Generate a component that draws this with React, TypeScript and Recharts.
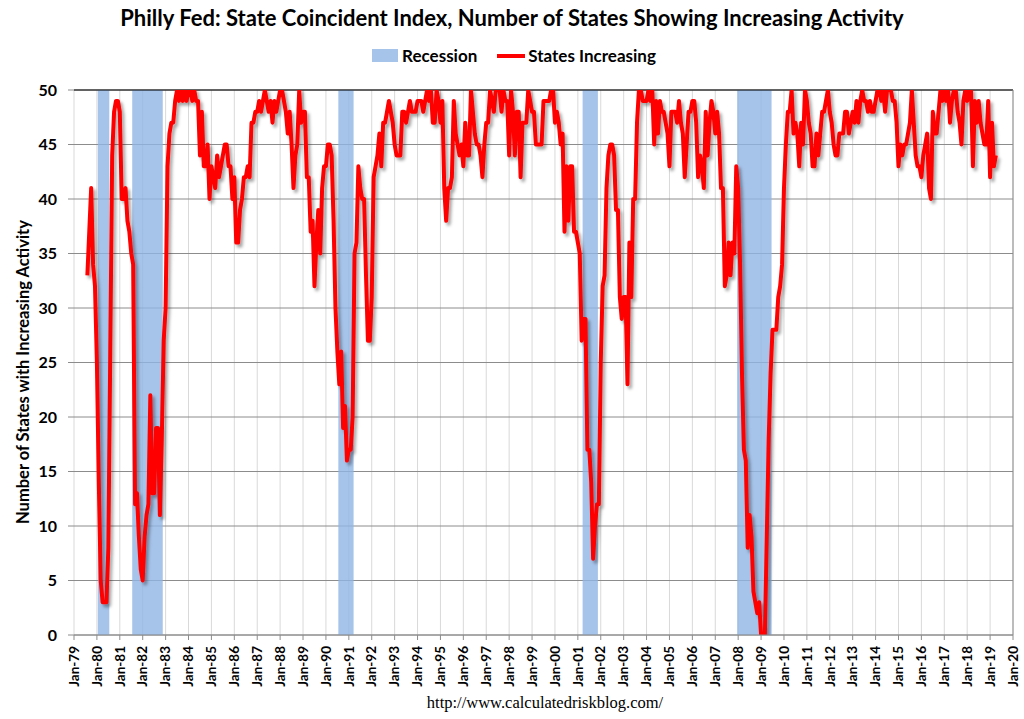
import React from 'react';
import { LineChart, Line, XAxis, YAxis, CartesianGrid, ReferenceArea, ReferenceLine } from 'recharts';

const FONT = 'Lato, "Open Sans", sans-serif';

// monthly number of states with increasing activity, Jan..Dec of each year
const y1979 = [null, null, null, null, null, null, null, 33, 37, 41, 34, 32];
const y1980 = [25, 14, 5, 3, 3, 3, 8, 26, 44, 48, 49, 49];
const y1981 = [48, 40, 40, 41, 38, 37, 35, 34, 12, 13, 9, 6];
const y1982 = [5, 9, 11, 12, 22, 13, 13, 19, 19, 11, 18, 27];
const y1983 = [30, 43, 46, 47, 47, 49, 50, 49, 50, 49, 50, 49];
const y1984 = [50, 50, 49, 50, 49, 49, 44, 48, 43, 43, 45, 40];
const y1985 = [43, 42, 41, 44, 42, 43, 44, 45, 45, 43, 43, 40];
const y1986 = [42, 36, 36, 39, 40, 42, 42, 43, 42, 47, 47, 48];
const y1987 = [48, 49, 48, 49, 50, 49, 48, 49, 47, 49, 48, 49];
const y1988 = [50, 50, 49, 48, 46, 48, 45, 41, 44, 45, 50, 47];
const y1989 = [48, 48, 42, 42, 37, 38, 32, 36, 39, 35, 41, 43];
const y1990 = [43, 45, 45, 44, 38, 30, 26, 23, 26, 19, 21, 16];
const y1991 = [17, 17, 20, 35, 36, 43, 41, 40, 40, 33, 27, 27];
const y1992 = [31, 42, 43, 44, 46, 43, 47, 47, 48, 49, 48, 47];
const y1993 = [45, 44, 44, 44, 48, 48, 47, 48, 49, 48, 48, 48];
const y1994 = [49, 49, 49, 48, 49, 50, 49, 50, 47, 47, 50, 49];
const y1995 = [47, 49, 41, 38, 41, 41, 42, 49, 46, 45, 44, 45];
const y1996 = [43, 47, 44, 44, 50, 48, 46, 45, 45, 44, 42, 45];
const y1997 = [47, 47, 50, 49, 48, 50, 50, 50, 48, 50, 49, 49];
const y1998 = [44, 50, 48, 44, 48, 48, 42, 47, 47, 47, 50, 49];
const y1999 = [48, 48, 45, 45, 45, 45, 49, 49, 49, 49, 50, 50];
const y2000 = [47, 48, 47, 45, 46, 37, 43, 38, 43, 43, 37, 37];
const y2001 = [36, 35, 27, 29, 29, 17, 17, 14, 7, 10, 12, 12];
const y2002 = [25, 32, 33, 41, 44, 45, 45, 44, 39, 39, 31, 29];
const y2003 = [31, 31, 23, 36, 31, 40, 40, 47, 50, 50, 49, 49];
const y2004 = [49, 50, 49, 50, 45, 49, 46, 49, 48, 48, 47, 46];
const y2005 = [43, 48, 48, 48, 47, 49, 47, 46, 42, 45, 48, 48];
const y2006 = [49, 49, 47, 42, 44, 43, 41, 48, 44, 47, 49, 48];
const y2007 = [46, 48, 46, 41, 41, 32, 33, 36, 33, 36, 35, 43];
const y2008 = [41, 34, 24, 17, 16, 8, 11, 9, 4, 3, 2, 3];
const y2009 = [0, 0, 0, 9, 18, 24, 28, 28, 28, 31, 32, 34];
const y2010 = [41, 45, 48, 48, 50, 46, 47, 46, 43, 47, 45, 50];
const y2011 = [49, 47, 46, 43, 43, 46, 44, 46, 48, 48, 49, 50];
const y2012 = [48, 47, 45, 44, 44, 46, 46, 46, 48, 48, 46, 47];
const y2013 = [48, 47, 49, 47, 49, 50, 49, 49, 48, 49, 48, 48];
const y2014 = [49, 50, 50, 49, 50, 48, 50, 50, 50, 49, 49, 47];
const y2015 = [43, 45, 44, 45, 45, 46, 47, 50, 47, 44, 43, 43];
const y2016 = [42, 44, 45, 46, 41, 40, 48, 46, 46, 48, 50, 49];
const y2017 = [50, 49, 50, 47, 49, 50, 50, 48, 47, 45, 49, 50];
const y2018 = [49, 50, 50, 43, 49, 47, 49, 47, 46, 45, 45, 49];
const y2019 = [42, 47, 43, 44];

const FIRST_YEAR = 1979;
const yearRows: (number | null)[][] = [
    y1979, y1980, y1981, y1982, y1983, y1984, y1985, y1986, y1987, y1988,
    y1989, y1990, y1991, y1992, y1993, y1994, y1995, y1996, y1997, y1998,
    y1999, y2000, y2001, y2002, y2003, y2004, y2005, y2006, y2007, y2008,
    y2009, y2010, y2011, y2012, y2013, y2014, y2015, y2016, y2017, y2018, y2019,
];

// recession months (first, last)
const recessionStarts = ['1980-02', '1981-08', '1990-08', '2001-04', '2008-01'];
const recessionEnds = ['1980-07', '1982-11', '1991-03', '2001-11', '2009-06'];

const tickYears = Array.from({ length: 42 }, (_, i) => 1979 + i);
const yTicks = [0, 5, 10, 15, 20, 25, 30, 35, 40, 45, 50];

const toT = (s: string) => {
    const [y, m] = s.split('-').map(Number);
    return y + (m - 1) / 12;
};

const chartData = yearRows
    .flatMap((row, i) => row.map((v, m) => ({ t: FIRST_YEAR + i + m / 12, states: v })))
    .filter(d => d.states !== null);

const XTick = ({ x, y, payload }: any) => (
    <g transform={`translate(${x},${y + 4})`}>
        <text
            transform="rotate(-90)"
            textAnchor="end"
            dy="0.35em"
            fill="#000"
            style={{ fontFamily: FONT, fontSize: 13.5, fontWeight: 700 }}
        >
            {`Jan-${String(payload.value % 100).padStart(2, '0')}`}
        </text>
    </g>
);

export default function App() {
    return (
        <div style={{ position: 'absolute', left: 0, top: 0, width: 1024, height: 719, background: '#fff', fontFamily: FONT }}>
            <svg width={0} height={0} style={{ position: 'absolute' }}>
                <defs>
                    <filter id="lineShadow" x="-5%" y="-5%" width="110%" height="110%">
                        <feDropShadow dx={2.5} dy={3} stdDeviation={1.6} floodColor="#000" floodOpacity={0.35} />
                    </filter>
                </defs>
            </svg>

            <div style={{ position: 'absolute', top: 3, left: 0, width: 1024, textAlign: 'center', fontSize: 22, fontWeight: 700, lineHeight: '30px', color: '#000' }}>
                Philly Fed: State Coincident Index, Number of States Showing Increasing Activity
            </div>

            <div style={{ position: 'absolute', top: 45, left: 0, width: 1028, display: 'flex', justifyContent: 'center', alignItems: 'center', fontSize: 17, fontWeight: 700, color: '#000' }}>
                <span style={{ display: 'inline-block', width: 26, height: 13, background: '#A6C3EA', marginRight: 4 }} />
                <span>Recession</span>
                <span style={{ display: 'inline-block', width: 28, height: 4, background: '#FF0000', marginLeft: 20, marginRight: 3 }} />
                <span>States Increasing</span>
            </div>

            <div style={{ position: 'absolute', left: 23, top: 372, transform: 'translate(-50%, -50%) rotate(-90deg)', whiteSpace: 'nowrap', fontSize: 16.5, fontWeight: 700, color: '#000' }}>
                Number of States with Increasing Activity
            </div>

            <LineChart width={1024} height={719} data={chartData} margin={{ top: 90, right: 11, bottom: 0, left: 0 }}>
                {recessionStarts.map((s, i) => (
                    <ReferenceArea
                        key={s}
                        x1={toT(s) - 0.5 / 12}
                        x2={toT(recessionEnds[i]) + 0.5 / 12}
                        y1={0}
                        y2={50}
                        fill="#90B4E4"
                        fillOpacity={0.8}
                        stroke="none"
                    />
                ))}
                <CartesianGrid horizontal={false} stroke="#D9D9D9" />
                <CartesianGrid vertical={false} stroke="#8C8C8C" />
                <XAxis
                    type="number"
                    dataKey="t"
                    domain={[1979, 2020]}
                    ticks={tickYears}
                    interval={0}
                    allowDataOverflow
                    height={84}
                    tickSize={5}
                    axisLine={{ stroke: '#8C8C8C' }}
                    tickLine={{ stroke: '#8C8C8C' }}
                    tick={<XTick />}
                />
                <YAxis
                    type="number"
                    domain={[0, 50]}
                    ticks={yTicks}
                    allowDataOverflow
                    width={74}
                    tickSize={6}
                    tickMargin={11}
                    axisLine={false}
                    tickLine={{ stroke: '#8C8C8C' }}
                    tick={{ fill: '#000', fontSize: 16, fontWeight: 700, fontFamily: FONT }}
                />
                <ReferenceLine y={50} stroke="#000" />
                <ReferenceLine x={2020} stroke="#8C8C8C" />
                <Line
                    type="linear"
                    dataKey="states"
                    stroke="#FF0000"
                    strokeWidth={4}
                    strokeLinejoin="round"
                    dot={false}
                    activeDot={false}
                    filter="url(#lineShadow)"
                    isAnimationActive={false}
                />
            </LineChart>

            <div style={{ position: 'absolute', left: 545, top: 703, transform: 'translate(-50%, -50%)', whiteSpace: 'nowrap', fontFamily: '"Liberation Serif", serif', fontSize: 16.5, color: '#000' }}>
                http://www.calculatedriskblog.com/
            </div>
        </div>
    );
}
